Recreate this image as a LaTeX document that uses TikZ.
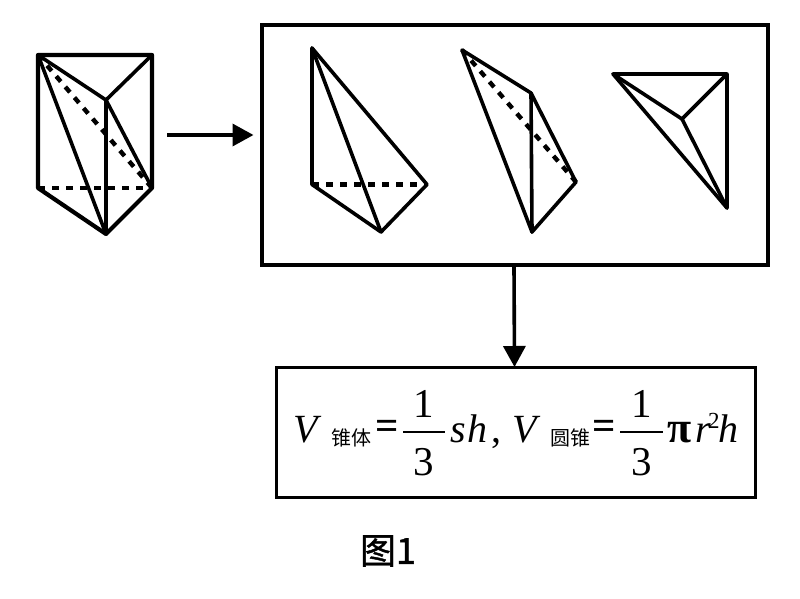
\documentclass[tikz,border=0pt]{standalone}
\usepackage{fontspec}
\setmainfont{Liberation Serif}
\newfontfamily\cjksub{Noto Sans CJK SC}
\newfontfamily\cjksans[FakeBold=1.2]{Noto Sans CJK SC}
\usetikzlibrary{arrows.meta}
\tikzset{
  edge/.style={black,line width=3.6pt,line join=round,line cap=round},
  hidden/.style={black,line width=4.4pt,dash pattern=on 7pt off 7pt},
  flow/.style={black,line width=3.6pt,shorten >=-1.5pt,-{Triangle[length=21pt,width=22pt]}},
  framebox/.style={draw=black,inner sep=0pt,fill=none},
  sym/.style={anchor=base west,inner sep=0pt,font=\fontsize{40}{40}\selectfont\itshape},
  num/.style={anchor=center,inner sep=0pt,font=\fontsize{41}{41}\selectfont},
  sub/.style={anchor=center,inner sep=0pt,font=\cjksub\fontsize{20}{20}\selectfont},
  bar/.style={black,line width=1.6pt}
}
\begin{document}
\begin{tikzpicture}[x=1pt,y=-1pt]
  \useasboundingbox (0,0) rectangle (800,599);

  % prism
  \coordinate (a) at (38,55);
  \coordinate (b) at (152,55);
  \coordinate (c) at (106,100);
  \coordinate (d) at (38,188);
  \coordinate (e) at (152,188);
  \coordinate (f) at (106,234);

  \draw[edge,line width=4.2pt] (a) -- (b) -- (e) -- (f) -- (d) -- cycle;
  \draw[edge] (a) -- (c) -- (b);
  \draw[edge] (c) -- (f);
  \draw[edge] (a) -- (f);
  \draw[edge] (c) -- (e);
  \draw[hidden] (d) -- (e);
  \draw[hidden] (a) -- (e);

  % first piece
  \coordinate (p) at (312,48);
  \coordinate (q) at (312,184.5);
  \coordinate (r) at (427,184.5);
  \coordinate (s) at (381,232);

  \draw[edge] (p) -- (q) -- (s) -- (r) -- cycle;
  \draw[edge] (p) -- (s);
  \draw[hidden] (q) -- (r);

  % second piece
  \coordinate (k) at (462,50);
  \coordinate (l) at (531,93);
  \coordinate (m) at (576,182);
  \coordinate (n) at (532,232);

  \draw[edge] (k) -- (l) -- (m) -- (n) -- cycle;
  \draw[edge] (l) -- (n);
  \draw[hidden] (k) -- (m);

  % third piece
  \coordinate (t) at (613,74);
  \coordinate (u) at (727,74);
  \coordinate (v) at (682,119);
  \coordinate (w) at (727,208);

  \draw[edge] (t) -- (u) -- (w) -- cycle;
  \draw[edge] (t) -- (v) -- (u);
  \draw[edge] (v) -- (w);

  % frames
  \node[framebox,line width=4pt,minimum width=506pt,minimum height=240pt] (pieces) at (515,145) {};
  \node[framebox,line width=3pt,minimum width=479pt,minimum height=130pt] (formula) at (515.5,432) {};

  % first formula
  \node[sym] (va) at (293,442) {V};
  \node[sub] (cone) at (351,438) {锥体};
  \node[num,font=\fontsize{41}{41}\selectfont\bfseries] (eqa) at (387,430) {=};
  \node[num] (onea) at (424,404) {1};
  \node[num] (threea) at (424,462) {3};
  \coordinate (bara) at (403,432);
  \coordinate (barb) at (445,432);
  \draw[bar] (bara) -- (barb);
  \node[sym] (sa) at (450,442) {s};
  \node[sym] (ha) at (467,442) {h};
  \node[sym,font=\fontsize{40}{40}\selectfont] (comma) at (491,442) {,};

  % second formula
  \node[sym] (vb) at (512,442) {V};
  \node[sub] (round) at (570,438) {圆锥};
  \node[num,font=\fontsize{41}{41}\selectfont\bfseries] (eqb) at (604,430) {=};
  \node[num] (oneb) at (642,404) {1};
  \node[num] (threeb) at (642,462) {3};
  \coordinate (barc) at (620,432);
  \coordinate (bard) at (663,432);
  \draw[bar] (barc) -- (bard);
  \node[sym,font=\fontsize{44}{44}\selectfont\bfseries] (pi) at (667,442) {π};
  \node[sym] (rb) at (695,442) {r};
  \node[sym,font=\fontsize{23}{23}\selectfont] (two) at (708,428) {2};
  \node[sym] (hb) at (718,442) {h};

  \node[inner sep=0pt] (caption) at (388,551) {\cjksans\fontsize{36}{36}\selectfont 图1};

  % arrows
  \coordinate (start) at (167,135);
  \coordinate (stop) at (252,135);
  \draw[flow] (start) -- (stop);
  \draw[flow] ([xshift=-1pt]pieces.south) -- ([xshift=-1pt]formula.north);
\end{tikzpicture}
\end{document}
